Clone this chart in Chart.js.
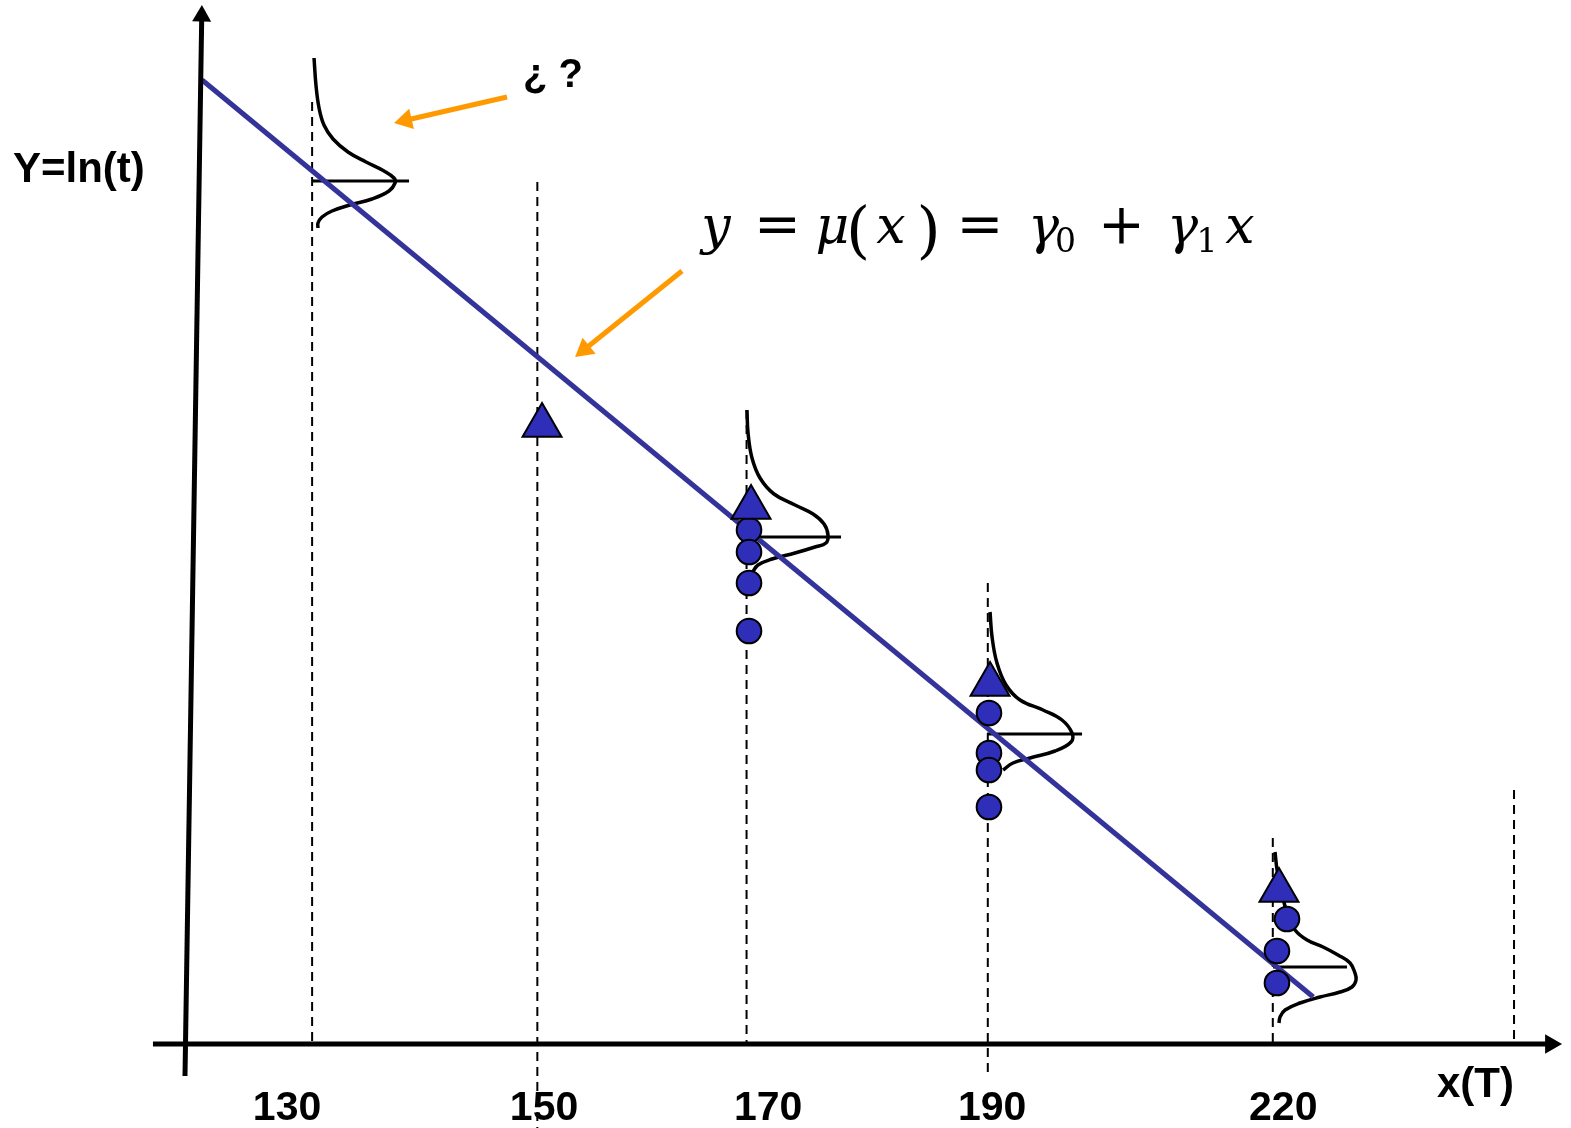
<!DOCTYPE html>
<html><head><meta charset="utf-8">
<script src="https://cdn.jsdelivr.net/npm/chart.js@4.4.1/dist/chart.umd.min.js"></script>
<style>html,body{margin:0;padding:0;background:#fff;}#wrap{width:1571px;height:1128px;position:relative;}</style>
</head><body><div id="wrap"><canvas id="c"></canvas></div>
<script>
// ---- data (x in temperature units, y = ln(t) units) ----
const tickValues = [127.65, 151.73, 172.72, 193.71, 220.98];
const tickLabels = ['130', '150', '170', '190', '220'];
const groupX = [130, 151.1, 170.7, 193.3, 220, 242.6];
const dashTop = [9.42, 8.62, 6.34, 4.61, 2.06, 2.54];
const dashBottom = [0, -0.84, 0, -0.32, 0, 0];
const triX = [151.54, 171.12, 193.51, 220.58];
const triY = [6.185, 5.365, 3.595, 1.535];
const circX = [170.93, 170.93, 170.93, 170.93, 193.41, 193.41, 193.41, 193.41, 221.33, 220.39, 220.39];
const circY = [5.14, 4.92, 4.61, 4.13, 3.31, 2.91, 2.74, 2.37, 1.25, 0.93, 0.61];
const fitX = [119.69, 223.79];
const fitY = [9.64, 0.47];
const meanX0 = [130.08, 170.65, 193.23, 220.02];
const meanX1 = [139.08, 179.55, 202.13, 226.95];
const meanY = [8.63, 5.07, 3.10, 0.77];
const curve130 = [[130.18,9.86],[130.36,9.59],[130.65,9.36],[131.11,9.19],[131.96,9.05],[133.36,8.92],[135.05,8.82],[136.74,8.73],[137.67,8.66],[137.77,8.61],[137.20,8.53],[135.61,8.45],[133.55,8.39],[131.86,8.33],[130.93,8.27],[130.55,8.21],[130.55,8.16]];
const curve170 = [[170.74,6.34],[170.84,6.11],[171.21,5.86],[171.96,5.66],[173.27,5.50],[175.24,5.39],[176.93,5.30],[177.96,5.20],[178.33,5.09],[178.14,5.01],[177.11,4.97],[175.24,4.91],[173.09,4.85],[171.77,4.79],[171.21,4.71]];
const curve190 = [[193.51,4.32],[193.70,4.07],[194.16,3.81],[195.01,3.59],[196.32,3.44],[198.47,3.34],[200.25,3.24],[201.19,3.11],[201.10,3.02],[199.60,2.93],[197.26,2.86],[195.66,2.81],[194.73,2.74]];
const curve220 = [[220.21,1.92],[220.40,1.74],[220.86,1.49],[221.43,1.29],[222.08,1.14],[223.21,1.04],[224.71,0.97],[226.11,0.89],[227.24,0.81],[227.70,0.71],[227.80,0.64],[227.42,0.57],[226.30,0.52],[224.43,0.47],[222.55,0.41],[221.15,0.34],[220.68,0.27],[220.58,0.21]];
const xAxisLine = [[115.09, 0], [246.04, 0]];
const yAxisLine = [[118.09, -0.32], [119.66, 10.28]];
const arrow1 = [[148.26, 9.47], [138.77, 9.237]];
const arrow2 = [[164.65, 7.73], [155.51, 6.945]];

const BLUE = '#2e2eb8';
const LINEBLUE = '#333399';
const ORANGE = '#ff9900';

const pts = (xs, ys) => xs.map((x, i) => ({x: x, y: ys[i]}));
const xy = arr => arr.map(p => ({x: p[0], y: p[1]}));
const lineDs = (data, extra) => Object.assign({type: 'scatter', data: data, showLine: true, pointRadius: 0, fill: false, clip: false, tension: 0}, extra);

const datasets = [];
groupX.forEach((x, i) => datasets.push(lineDs([{x: x, y: dashTop[i]}, {x: x, y: dashBottom[i]}], {borderColor: '#000', borderWidth: 2, borderDash: [9, 6], order: 10})));
[curve130, curve170, curve190, curve220].forEach(c => datasets.push(lineDs(xy(c), {borderColor: '#000', borderWidth: 3.5, tension: 0.4, order: 8})));
meanY.forEach((y, i) => datasets.push(lineDs([{x: meanX0[i], y: y}, {x: meanX1[i], y: y}], {borderColor: '#000', borderWidth: 3, order: 8})));
datasets.push(lineDs(pts(fitX, fitY), {borderColor: LINEBLUE, borderWidth: 5, order: 6}));
datasets.push(lineDs(xy(xAxisLine), {borderColor: '#000', borderWidth: 5, order: 5}));
datasets.push(lineDs(xy(yAxisLine), {borderColor: '#000', borderWidth: 5, order: 5}));
datasets.push(lineDs(xy(arrow1), {borderColor: ORANGE, borderWidth: 5, order: 4}));
datasets.push(lineDs(xy(arrow2), {borderColor: ORANGE, borderWidth: 5, order: 4}));
// arrow heads
const head = (p, rot, color, r) => ({type: 'scatter', data: [{x: p[0], y: p[1]}], pointStyle: 'triangle', pointRotation: rot, pointRadius: r, backgroundColor: color, borderWidth: 0, clip: false, order: 3});
datasets.push(head(xAxisLine[1], 90, '#000', 11.3));
datasets.push(head(yAxisLine[1], 0.9, '#000', 11));
datasets.push(head(arrow1[1], 257, ORANGE, 12));
datasets.push(head(arrow2[1], 231.2, ORANGE, 12));
// markers
datasets.push({type: 'scatter', data: pts(circX, circY), pointStyle: 'circle', pointRadius: 12.3, backgroundColor: BLUE, borderColor: '#000', borderWidth: 2, clip: false, order: 2});
datasets.push({type: 'scatter', data: pts(triX, triY), pointStyle: 'triangle', pointRadius: 22.5, backgroundColor: BLUE, borderColor: '#000', borderWidth: 2, clip: false, order: 1});

const textPlugin = {
  id: 'texts',
  afterDraw(chart) {
    const ctx = chart.ctx;
    ctx.save();
    ctx.fillStyle = '#000';
    ctx.textBaseline = 'alphabetic';
    ctx.textAlign = 'left';
    ctx.font = 'bold 42px "Liberation Sans", Arial, sans-serif';
    ctx.fillText('Y=ln(t)', 13, 182);
    ctx.fillText('x(T)', 1437, 1097);
    ctx.font = 'bold 40px "Liberation Sans", Arial, sans-serif';
    ctx.fillText('¿ ?', 523, 87);
    // equation
    const serif = '"DejaVu Serif", "Liberation Serif", serif';
    const tokens = [
      ['y', 716, 243, 'italic', 52],
      ['=', 777.5, 243, '', 56],
      ['μ', 832.5, 243, 'italic', 52],
      ['(', 858, 251, '', 62],
      ['x', 891, 243, 'italic', 52],
      [')', 928.5, 251, '', 62],
      ['=', 980, 243, '', 56],
      ['γ', 1043.5, 243, 'italic', 52],
      ['0', 1065.5, 252, '', 33],
      ['+', 1121.5, 243, '', 56],
      ['γ', 1182.5, 243, 'italic', 52],
      ['1', 1207, 252, '', 33],
      ['x', 1240, 243, 'italic', 52]
    ];
    ctx.textAlign = 'center';
    tokens.forEach(t => {
      ctx.font = (t[3] ? t[3] + ' ' : '') + t[4] + 'px ' + serif;
      ctx.fillText(t[0], t[1], t[2]);
    });
    ctx.restore();
  }
};

new Chart(document.getElementById('c'), {
  type: 'scatter',
  data: {datasets: datasets},
  options: {
    responsive: true,
    maintainAspectRatio: false,
    animation: false,
    devicePixelRatio: 1,
    layout: {autoPadding: false, padding: {left: 152, right: 10, top: 0, bottom: 0}},
    plugins: {legend: {display: false}, tooltip: {enabled: false}, title: {display: false}},
    events: [],
    scales: {
      x: {
        type: 'linear', min: 115, max: 247,
        grid: {display: false, drawTicks: false},
        border: {display: false},
        afterBuildTicks: s => { s.ticks = tickValues.map(v => ({value: v})); },
        afterFit: s => { s.height = 48; },
        ticks: {
          autoSkip: false, maxRotation: 0, padding: 4, color: '#000',
          font: {family: '"Liberation Sans", Arial, sans-serif', size: 41, weight: 'bold'},
          callback: (v, i) => tickLabels[i]
        }
      },
      y: {type: 'linear', min: -0.36, max: 10.44, display: false}
    }
  },
  plugins: [textPlugin]
});
</script></body></html>
